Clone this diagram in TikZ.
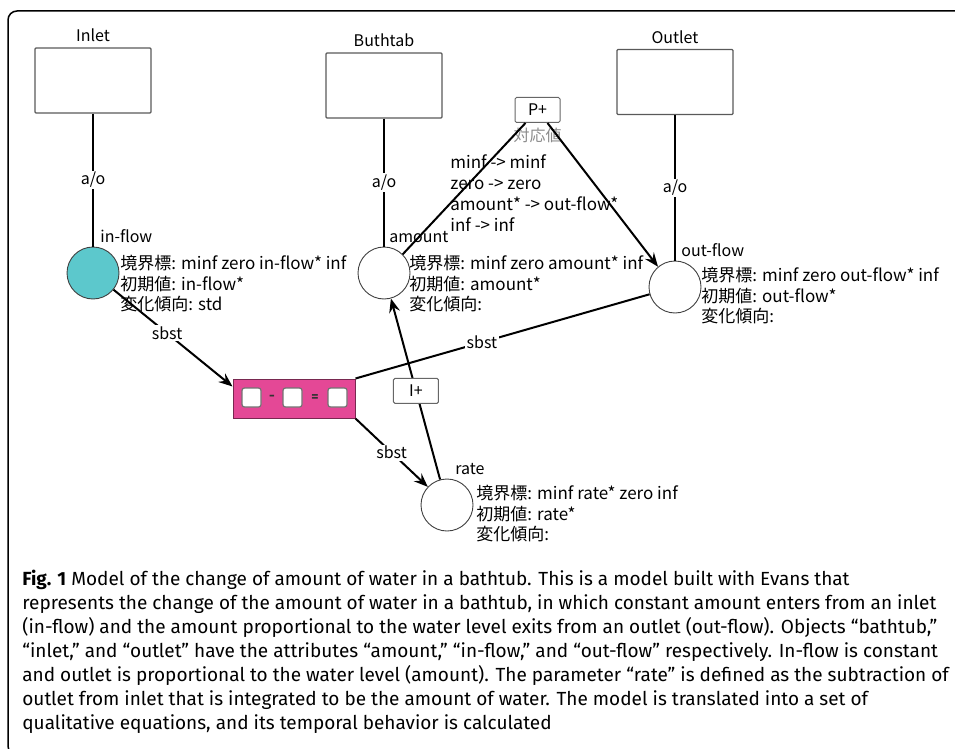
\documentclass[tikz,border=0pt]{standalone}
\usepackage{fontspec}
\setmainfont{Fira Sans}
\newfontfamily\jpfont{Noto Sans CJK JP}
\usetikzlibrary{positioning,arrows.meta}

\definecolor{flowteal}{RGB}{92,200,204}
\definecolor{calcpink}{RGB}{228,72,150}
\definecolor{calcedge}{RGB}{120,40,80}

\tikzset{every picture/.style={line width=0.75pt}}
\tikzset{
  objbox/.style={draw=black!65, line width=1.1pt, rounded corners=1pt, minimum width=116pt, minimum height=65pt, inner sep=0pt},
  objname/.style={inner sep=0pt, font=\jpfont\fontsize{16}{18}\selectfont},
  qvar/.style={circle, draw=black!75, line width=0.9pt, fill=white, minimum size=52pt, inner sep=0pt},
  varname/.style={anchor=south west, inner sep=0pt, font=\jpfont\fontsize{16}{18}\selectfont},
  attrs/.style={anchor=north west, align=left, inner sep=0pt, font=\jpfont\fontsize{17}{20.5}\selectfont},
  link/.style={line width=2pt},
  arr/.style={link, -{Stealth[length=14pt,width=11pt,inset=5pt]}},
  tag/.style={fill=white, inner sep=1.5pt, font=\jpfont\fontsize{16}{18}\selectfont},
  relbox/.style={draw=black!60, fill=white, line width=1pt, rounded corners=1.5pt, minimum width=45pt, minimum height=25pt, inner sep=0pt, font=\jpfont\fontsize{16}{18}\selectfont},
  slot/.style={draw=black!55, fill=white, line width=1.2pt, rounded corners=2.5pt, minimum size=19pt, inner sep=0pt},
}

\begin{document}
\begin{tikzpicture}[x=1pt,y=1pt,yscale=-1]
\useasboundingbox (0,0) rectangle (955,749);

\draw [line width=1.5pt, rounded corners=9pt] (960,11) -- (8,11) -- (8,755) -- (30,755) ;

\node [objbox] (inlet) at (93,80.5) {};
\node [objbox] (buthtab) at (384,85.5) {};
\node [objbox] (outlet) at (675,82) {};
\node [objname, above=5pt of inlet] (inletname) {Inlet};
\node [objname, above=5pt of buthtab] (buthtabname) {Buthtab};
\node [objname, above=5pt of outlet] (outletname) {Outlet};

\node [qvar, fill=flowteal] (inflow) at (93,273) {};
\node [qvar] (amount) at (384,273) {};
\node [qvar] (outflow) at (675,287) {};
\node [qvar] (rate) at (447,505) {};

\node [varname] (inflowname) at ([xshift=7pt,yshift=-3pt]inflow.north) {in-flow};
\node [varname] (amountname) at ([xshift=5pt,yshift=-3pt]amount.north) {amount};
\node [varname] (outflowname) at ([xshift=6pt,yshift=-3pt]outflow.north) {out-flow};
\node [varname] (ratename) at ([xshift=8pt,yshift=-3pt]rate.north) {rate};

\node [attrs] (inflowattr) at ([xshift=27pt,yshift=-18pt]inflow.center) {境界標: minf zero in-flow* inf\\初期値: in-flow*\\変化傾向: std};
\node [attrs] (amountattr) at ([xshift=25pt,yshift=-18pt]amount.center) {境界標: minf zero amount* inf\\初期値: amount*\\変化傾向:};
\node [attrs] (outflowattr) at ([xshift=26pt,yshift=-20pt]outflow.center) {境界標: minf zero out-flow* inf\\初期値: out-flow*\\変化傾向:};
\node [attrs] (rateattr) at ([xshift=29pt,yshift=-20pt]rate.center) {境界標: minf rate* zero inf\\初期値: rate*\\変化傾向:};

\draw [link] (inlet) -- (inflow) node [tag, midway] {a/o} ;
\draw [link] (buthtab) -- (amount) node [tag, midway] {a/o} ;
\draw [link] (outlet) -- (outflow) node [tag, midway] {a/o} ;

\node [relbox] (pplus) at (537.5,110) {P+};
\node [inner sep=0pt, below=5pt of pplus, text=black!45, font=\jpfont\fontsize{16}{18}\selectfont] (pplusname) {対応値};
\node [attrs, font=\jpfont\fontsize{17}{21}\selectfont] (pmap) at (450,154) {minf -> minf\\zero -> zero\\amount* -> out-flow*\\inf -> inf};
\draw [link] (amount.45) -- ([xshift=-12pt]pplus.south) ;
\draw [arr] ([xshift=10pt]pplus.south) -- (outflow.130) ;

\node [draw=calcedge, fill=calcpink, line width=1pt, minimum width=122pt, minimum height=39pt, inner sep=0pt] (calc) at (294,398.5) {};
\node [slot] (slota) at (251.5,397.5) {};
\node [slot] (slotb) at (292.5,397.5) {};
\node [slot] (slotc) at (337.5,397.5) {};
\node [inner sep=0pt, font=\bfseries\fontsize{14}{16}\selectfont, text=black!80] (minus) at (272,398) {-};
\node [inner sep=0pt, font=\bfseries\fontsize{14}{16}\selectfont, text=black!80] (equals) at (315,398) {=};

\draw [arr] (inflow) -- ([yshift=8pt]calc.north west) node [tag, pos=0.45] {sbst} ;
\draw [link] (calc.north east) -- (outflow) node [tag, pos=0.43] {sbst} ;
\draw [arr] (calc.south east) -- (rate) node [tag, pos=0.5] {sbst} ;
\draw [arr] (rate) -- (amount) node [relbox, pos=0.49] (iplus) {I+} ;

\node [anchor=north west, align=left, inner sep=0pt, font=\fontsize{19}{24}\selectfont] (caption) at (22,570) {\textbf{Fig. 1} Model of the change of amount of water in a bathtub. This is a model built with Evans that\\
represents the change of the amount of water in a bathtub, in which constant amount enters from an inlet\\
(in-flow) and the amount proportional to the water level exits from an outlet (out-flow). Objects “bathtub,”\\
“inlet,” and “outlet” have the attributes “amount,” “in-flow,” and “out-flow” respectively. In-flow is constant\\
and outlet is proportional to the water level (amount). The parameter “rate” is defined as the subtraction of\\
outlet from inlet that is integrated to be the amount of water. The model is translated into a set of\\
qualitative equations, and its temporal behavior is calculated};

\end{tikzpicture}
\end{document}
